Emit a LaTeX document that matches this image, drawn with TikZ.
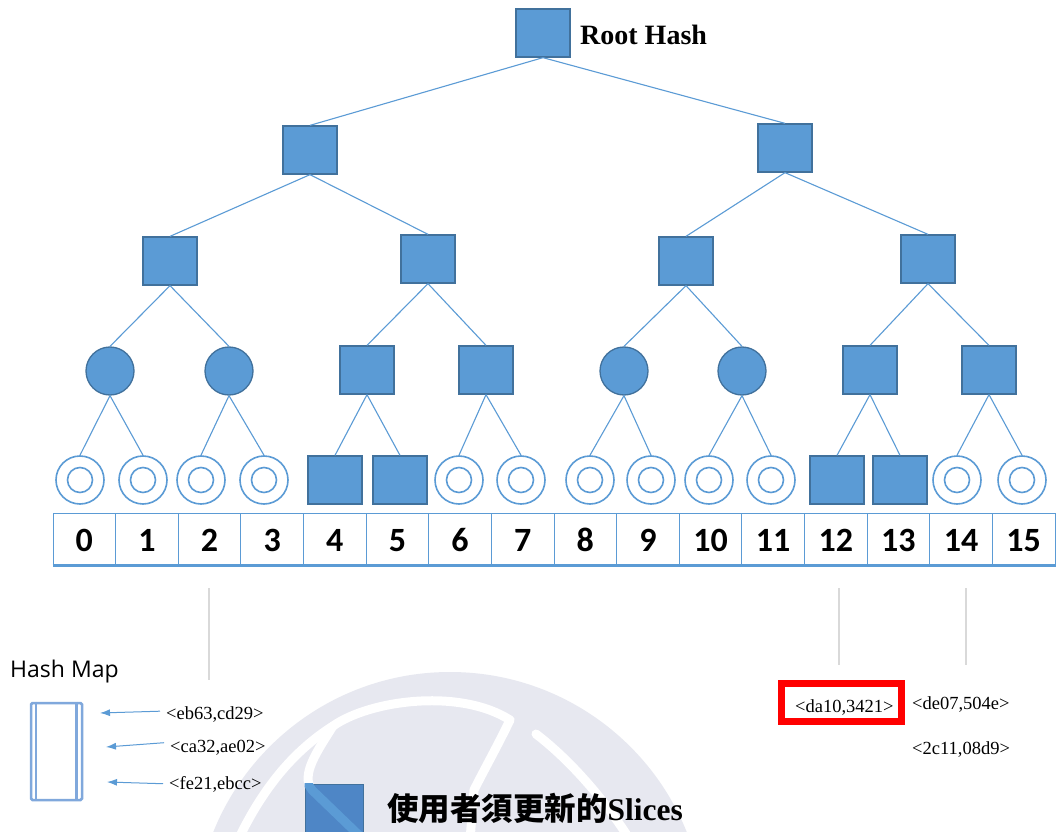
\documentclass[tikz,border=0pt]{standalone}
\usepackage{fontspec}
\setmainfont{Liberation Serif}
\newfontfamily\cjk{Noto Sans CJK TC}
\newfontfamily\numfont{Carlito}
\newfontfamily\mapfont{Open Sans}
\usetikzlibrary{arrows.meta}

\definecolor{nodeblue}{HTML}{5B9BD5}
\definecolor{nodeedge}{HTML}{41719C}
\definecolor{mapblue}{HTML}{80A8DC}
\definecolor{guidegray}{HTML}{D9D9D9}
\definecolor{sealgray}{HTML}{E7E8F0}
\definecolor{keyblue}{HTML}{4E86C6}
\definecolor{alertred}{HTML}{FF0000}

\begin{document}
\begin{tikzpicture}[x=1pt,y=-1pt,
  hsq/.style={rectangle, fill=nodeblue, draw=nodeedge, line width=1.3pt,
              minimum width=54pt, minimum height=48pt, inner sep=0pt},
  hci/.style={circle, fill=nodeblue, draw=nodeedge, line width=1.3pt,
              minimum size=48pt, inner sep=0pt},
  leafring/.style={circle, draw=nodeblue, line width=1.6pt, minimum size=48pt,
              inner sep=0pt,
              path picture={\draw[nodeblue, line width=1.6pt]
                 (path picture bounding box.center) circle (12.5pt);}},
  edge/.style={draw=nodeblue, line width=1.1pt},
  cell/.style={rectangle, draw=nodeblue, line width=1pt, minimum width=62.625pt,
              minimum height=52pt, inner sep=0pt, text height=24pt, text depth=0pt,
              font=\numfont\bfseries\fontsize{34}{36}\selectfont},
  guide/.style={draw=guidegray, line width=1.3pt},
  hashtxt/.style={inner sep=0pt, anchor=base west, font=\fontsize{18.5}{20}\selectfont},
  harrow/.style={draw=nodeblue, line width=1pt, -{Latex[length=10pt,width=7pt]},
              shorten <=6pt},
]
\useasboundingbox (0,0) rectangle (1058,832);
\clip (0,0) rectangle (1058,832);
\fill[white] (0,0) rectangle (1058,832);

% faint bell emblem in the background
\fill[sealgray] (450,927) circle (255pt);
\begin{scope}[white, line width=9pt, line cap=round, line join=round]
  \draw (238,840) .. controls (262,790) and (292,752) .. (333,726);
  \draw (333,726) .. controls (370,700) and (460,688) .. (510,720);
  \draw (536,734) .. controls (570,760) and (605,800) .. (630,840);
  \draw (333,726) .. controls (318,750) and (300,775) .. (312,790) -- (366,842);
  \draw (510,720) .. controls (498,745) and (484,770) .. (474,790) -- (470,840);
\end{scope}

% hash tree
\node[hsq] (root) at (543,33) {};
\node[hsq] (a1) at (310,150) {};
\node[hsq] (a2) at (785,148) {};
\node[hsq] (b1) at (170,261) {};
\node[hsq] (b2) at (428,259) {};
\node[hsq] (b3) at (686,261) {};
\node[hsq] (b4) at (928,259) {};
\node[hci] (c1) at (110,371) {};
\node[hci] (c2) at (229,371) {};
\node[hsq] (c3) at (367,370) {};
\node[hsq] (c4) at (486,370) {};
\node[hci] (c5) at (624,371) {};
\node[hci] (c6) at (742,371) {};
\node[hsq] (c7) at (870,370) {};
\node[hsq] (c8) at (989,370) {};
\foreach \i/\x/\t in {0/80/leafring,1/143/leafring,2/201/leafring,3/264/leafring,
    4/335/hsq,5/400/hsq,6/459/leafring,7/521/leafring,8/590/leafring,9/651/leafring,
    10/709/leafring,11/771/leafring,12/837/hsq,13/900/hsq,14/957/leafring,15/1022/leafring}
  \node[\t] (l\i) at (\x,480) {};

\foreach \p/\c in {root/a1,root/a2,a1/b1,a1/b2,a2/b3,a2/b4,
    b1/c1,b1/c2,b2/c3,b2/c4,b3/c5,b3/c6,b4/c7,b4/c8,
    c1/l0,c1/l1,c2/l2,c2/l3,c3/l4,c3/l5,c4/l6,c4/l7,
    c5/l8,c5/l9,c6/l10,c6/l11,c7/l12,c7/l13,c8/l14,c8/l15}
  \draw[edge] (\p.south) -- (\c.north);

\node[inner sep=0pt, anchor=base west, font=\bfseries\fontsize{28}{30}\selectfont]
  (roottxt) at (580,45) {Root Hash};

% slice index row
\foreach \i in {0,...,15}
  \node[cell] (cell\i) at ({53+62.625*(\i+0.5)},539) {\i};
\draw[nodeblue, line width=2.5pt] (cell0.south west) -- (cell15.south east);

% guide lines below the slices
\coordinate (g2a) at (209,588); \coordinate (g2b) at (209,680);
\coordinate (g12a) at (839,588); \coordinate (g12b) at (839,665);
\coordinate (g14a) at (966,588); \coordinate (g14b) at (966,665);
\draw[guide] (g2a) -- (g2b);
\draw[guide] (g12a) -- (g12b);
\draw[guide] (g14a) -- (g14b);

% hash map
\node[inner sep=0pt, anchor=base west, font=\mapfont\fontsize{23}{25}\selectfont]
  (maptitle) at (10,677) {Hash Map};
\node[rectangle, draw=mapblue, line width=2.5pt, rounded corners=1.5pt,
      minimum width=51pt, minimum height=97pt, inner sep=0pt] (hmap) at (56.5,751.5) {};
\draw[mapblue, line width=2.5pt] ([xshift=6pt]hmap.north west) -- ([xshift=6pt]hmap.south west);
\draw[mapblue, line width=2.5pt] ([xshift=-7pt]hmap.north east) -- ([xshift=-7pt]hmap.south east);

\node[hashtxt] (t1) at (166,719) {<eb63,cd29>};
\node[hashtxt] (t2) at (170,752) {<ca32,ae02>};
\node[hashtxt] (t3) at (169,789) {<fe21,ebcc>};
\coordinate (tip1) at (100,713);
\coordinate (tip2) at (106,747);
\coordinate (tip3) at (107,782);
\draw[harrow] ([yshift=3pt]t1.west) -- (tip1);
\draw[harrow] ([yshift=5pt]t2.west) -- (tip2);
\draw[harrow] (t3.west) -- (tip3);

% changed slice pairs
\node[rectangle, draw=alertred, line width=7pt, minimum width=120pt,
      minimum height=38pt, inner sep=0pt] (redbox) at (841.5,702.5) {};
\node[hashtxt] (t12) at (795,712) {<da10,3421>};
\node[hashtxt] (t14a) at (912,709) {<de07,504e>};
\node[hashtxt] (t14b) at (912,754) {<2c11,08d9>};

% legend
\node[rectangle, fill=keyblue, draw=nodeedge, line width=1pt,
      minimum width=58pt, minimum height=56pt, inner sep=0pt] (keysq) at (334,812) {};
\begin{scope}
  \clip (keysq.north west) rectangle (keysq.south east);
  \draw[nodeblue, line width=9pt] (300,772) -- (312,790) -- (366,842);
\end{scope}
\node[inner sep=0pt, anchor=base west, font=\fontsize{31.5}{33}\selectfont]
  (keytxt) at (387,820) {{\cjk\bfseries 使用者須更新的}{\bfseries Slices}};
\end{tikzpicture}
\end{document}
